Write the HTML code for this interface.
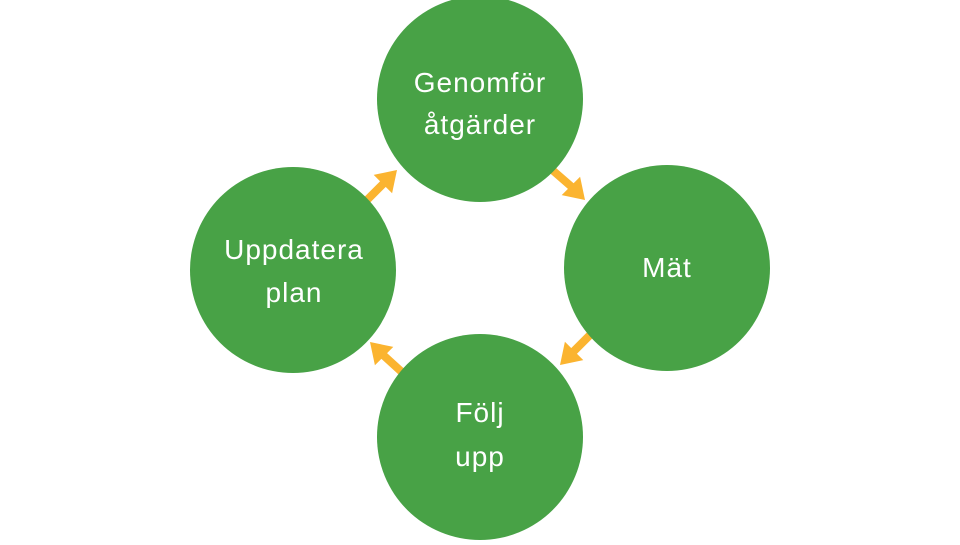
<!DOCTYPE html><html><head><style>body{margin:0;background:#fff}</style></head><body>
<svg width="960" height="540" xmlns="http://www.w3.org/2000/svg">
<g stroke="#FBB430" stroke-width="8">
<line x1="550" y1="168" x2="573" y2="188"/>
<line x1="594" y1="331" x2="572" y2="353"/>
<line x1="404" y1="374" x2="382" y2="354"/>
<line x1="362" y1="205" x2="385" y2="182"/>
</g>
<g fill="#FBB430">
<polygon points="561.7,195.1 580.1,176.7 585,200"/>
<polygon points="583.3,360.1 564.9,341.7 560,365"/>
<polygon points="393.3,346.9 374.9,365.3 370,342"/>
<polygon points="392.1,193.3 373.7,174.9 397,170"/>
</g>
<g fill="#48A246">
<circle cx="480" cy="99" r="103"/>
<circle cx="667" cy="268" r="103"/>
<circle cx="480" cy="437" r="103"/>
<circle cx="293" cy="270" r="103"/>
</g>
<g fill="#fff" font-family="Liberation Sans, sans-serif" font-size="28" text-anchor="middle" letter-spacing="1">
<text x="480" y="92">Genomför</text><text x="480" y="134">åtgärder</text>
<text x="667" y="277">Mät</text>
<text x="480" y="422">Följ</text><text x="480" y="466">upp</text>
<text x="294" y="259">Uppdatera</text><text x="294" y="302">plan</text>
</g>
</svg></body></html>
